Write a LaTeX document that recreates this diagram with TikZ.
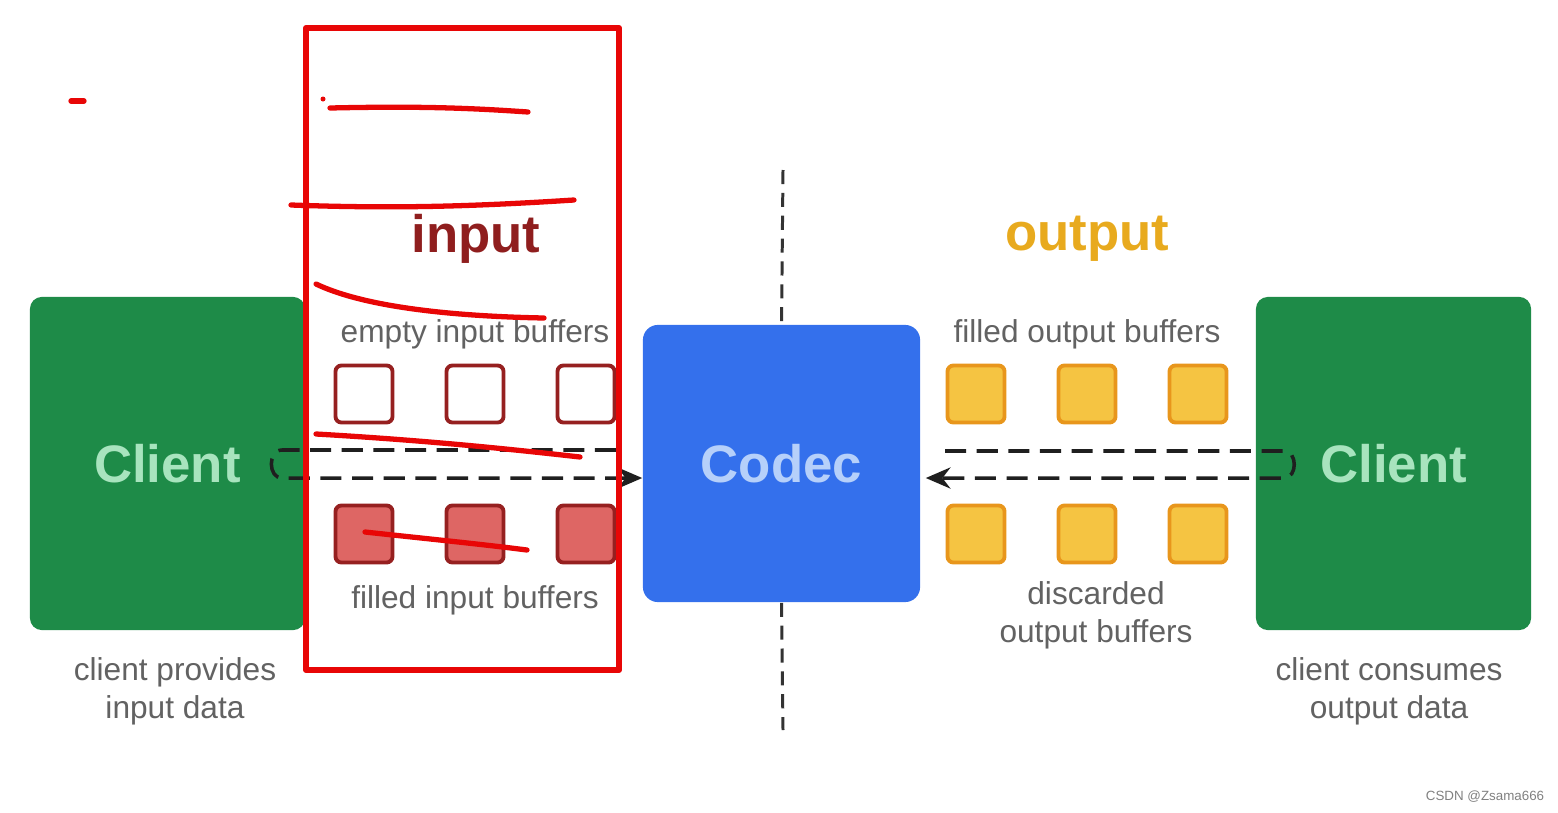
\documentclass[tikz,border=0pt]{standalone}
\usepackage{fontspec}
\setmainfont{Liberation Sans}
\usepackage{tikz}
\usetikzlibrary{positioning,arrows.meta}
\definecolor{clientgreen}{RGB}{30,139,72}
\definecolor{clienttext}{RGB}{168,228,190}
\definecolor{codecblue}{RGB}{52,112,236}
\definecolor{codectext}{RGB}{182,208,250}
\definecolor{inred}{RGB}{150,32,32}
\definecolor{infill}{RGB}{222,102,100}
\definecolor{outorange}{RGB}{232,150,28}
\definecolor{outfill}{RGB}{245,196,66}
\definecolor{outtitle}{RGB}{232,170,30}
\definecolor{labelgray}{RGB}{98,98,98}
\definecolor{penred}{RGB}{232,6,6}
\tikzset{
		clientBox/.style = 	{fill=clientgreen, rounded corners=0.12cm, minimum width=2.75cm, minimum height=3.33cm, text=clienttext, font=\fontsize{15}{18}\selectfont\bfseries},
		codecBox/.style = 	{fill=codecblue, rounded corners=0.15cm, minimum width=2.77cm, minimum height=2.77cm, text=codectext, font=\fontsize{15}{18}\selectfont\bfseries},
		bufBox/.style = 	{rounded corners=0.06cm, line width=1.1pt, minimum size=0.57cm, inner sep=0},
		emptyIn/.style = 	{bufBox, draw=inred, fill=white},
		filledIn/.style = 	{bufBox, draw=inred, fill=infill},
		outBuf/.style = 	{bufBox, draw=outorange, fill=outfill},
		bufLabel/.style = 	{text=labelgray, inner sep=0, align=center, font=\fontsize{9}{10.8}\selectfont},
		sideTitle/.style = 	{inner sep=0, font=\fontsize{15}{18}\selectfont\bfseries},
		flowStyle/.style = 	{line width=1pt, color=black!88, dash pattern=on 6pt off 3pt},
		divider/.style = 	{line width=0.85pt, color=black!80, dash pattern=on 4pt off 2.5pt},
		scribble/.style = 	{line width=1.5pt, color=penred, line cap=round, line join=round},
		node distance=0.14cm
}
\begin{document}
\begin{tikzpicture}[x=0.01cm,y=-0.01cm]
  \useasboundingbox (0,0) rectangle (1558,812);

  % Draw client and codec boxes
  \node [clientBox] (clientL) at (167.5,463.5) {Client};
  \node [clientBox] (clientR) at (1393.5,463.5) {Client};
  \node [codecBox]  (codec)   at (781.5,463.5) {Codec};

  % Draw buffers on both sides
  \foreach \i in {0,1,2}
    {
     \node [emptyIn]  (ein\i)  at (364+111*\i,394) {};
     \node [filledIn] (fin\i)  at (364+111*\i,534) {};
     \node [outBuf]   (fout\i) at (976+111*\i,394) {};
     \node [outBuf]   (dout\i) at (976+111*\i,534) {};
    }

  % Labels
  \node [sideTitle, text=inred!95!black] (inTitle)  at (476,239) {input};
  \node [sideTitle, text=outtitle]       (outTitle) at (1087,239) {output};
  \node [bufLabel, above=of ein1]            (einLabel)  {empty input buffers};
  \node [bufLabel, below=0.2cm of fin1]      (finLabel)  {filled input buffers};
  \node [bufLabel, above=of fout1]           (foutLabel) {filled output buffers};
  \node [bufLabel] (doutLabel) at (1096,615) {discarded\\output buffers};
  \node [bufLabel] (provLabel) at (175,691)  {client provides\\input data};
  \node [bufLabel] (consLabel) at (1389,691) {client consumes\\output data};

  % Divider between input and output
  \coordinate (divTop) at (783,170);
  \coordinate (divBot) at (783,730);
  \draw [divider] (divTop) -- (codec.north);
  \draw [divider] (codec.south) -- (divBot);

  % Dashed flows through the codec
  \coordinate (inStart)  at (616,450);
  \coordinate (inTurnA)  at (282,450);
  \coordinate (inTurnB)  at (282,478);
  \coordinate (outStart) at (945,451);
  \coordinate (outTurnA) at (1284,451);
  \coordinate (outTurnB) at (1284,478);
  \draw [flowStyle, -{Stealth[length=7pt,width=6pt]}] (inStart) -- (inTurnA) to[out=180,in=180,looseness=1.3] (inTurnB) -- ([yshift=-0.145cm]codec.west);
  \draw [flowStyle, -{Stealth[length=7pt,width=6pt]}] (outStart) -- (outTurnA) to[out=0,in=0,looseness=1.3] (outTurnB) -- ([yshift=-0.145cm,xshift=0.05cm]codec.east);

  % Hand drawn marks
  \draw [scribble, line width=1.7pt] (306,28) rectangle (619,670);
  \draw [scribble] (71,101) -- (84,101);
  \fill [penred] (323,99) circle (0.025cm);
  \draw [scribble] (330,108) .. controls (420,106) and (470,108) .. (528,112);
  \draw [scribble] (291,205) .. controls (400,209) and (480,206) .. (574,200);
  \draw [scribble] (316,284) .. controls (360,305) and (440,316) .. (544,318);
  \draw [scribble] (316,434) .. controls (420,440) and (500,448) .. (580,457);
  \draw [scribble] (365,532) .. controls (420,538) and (480,544) .. (527,550);

  \node [text=black!50, inner sep=0, font=\fontsize{3.8}{4.5}\selectfont] (mark) at (1485,797) {CSDN @Zsama666};

\end{tikzpicture}
\end{document}
